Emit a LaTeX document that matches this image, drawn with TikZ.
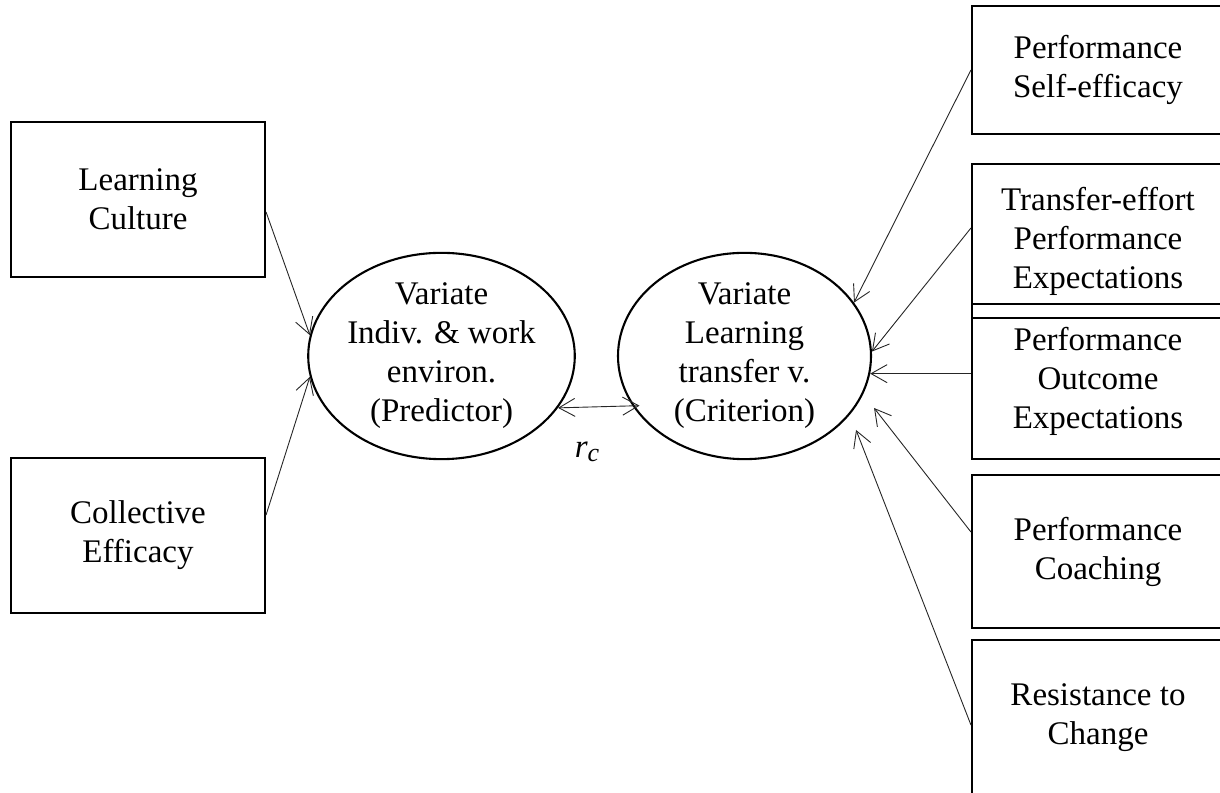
\documentclass[tikz,border=0pt]{standalone}
\usepackage{fontspec}
\setmainfont{Liberation Serif}
\usetikzlibrary{arrows.meta,shapes.geometric}
\begin{document}
\begin{tikzpicture}[x=1pt,y=1pt,
  txt/.style={font=\fontsize{33}{39}\selectfont, align=center},
  var/.style={draw, ellipse, line width=2.1pt, minimum width=253pt,
    minimum height=202pt, inner sep=0pt, txt},
  lbox/.style={draw, rectangle, line width=2.1pt, inner sep=0pt, txt},
  tipv/.tip={Straight Barb[length=16pt,width=18pt]},
  path/.style={line width=0.9pt, draw=black!85, -tipv},
  dpath/.style={line width=0.9pt, draw=black!85, tipv-tipv}
]
\useasboundingbox (0,0) rectangle (1220,792);

% predictor side
\node[lbox, minimum width=254pt, minimum height=155pt] (lc) at (138,592.5) {Learning\\Culture};
\node[lbox, minimum width=254pt, minimum height=155pt] (ce) at (138,256.5) {Collective\\Efficacy};

% the two canonical variates
\node[var] (pre) at (441.5,436) {Variate\\Indiv. \& work\\environ.\\(Predictor)};
\node[var] (cri) at (744.5,436) {Variate\\Learning\\transfer v.\\(Criterion)};

% criterion side
\node[lbox, minimum width=252pt, minimum height=128pt] (b1) at (1098,722) {Performance\\Self-efficacy};
\node[lbox, minimum width=252pt, minimum height=154pt] (b2) at (1098,551) {Transfer-effort\\Performance\\Expectations};
\node[lbox, minimum width=252pt, minimum height=155pt] (b3) at (1098,410.5) {Performance\\Outcome\\Expectations};
\node[lbox, minimum width=252pt, minimum height=153pt] (b4) at (1098,240.5) {Performance\\Coaching};
\node[lbox, minimum width=252pt, minimum height=156pt] (b5) at (1098,74) {Resistance to\\Change};

% canonical correlation
\node[font=\fontsize{33}{39}\selectfont, inner sep=0pt] (rc) at (587,340)
  {\textit{r}\raisebox{-4pt}{\fontsize{26}{26}\selectfont\itshape c}};

% connectors
\draw[path] ([yshift=-12.5pt]lc.east) -- (pre.171.7);
\draw[path] ([yshift=20.5pt]ce.east) -- (pre.189.65);
\draw[dpath, shorten >=-7pt] (pre.-24.4) -- (cri.204.4);

\draw[path] (b1.west) -- (cri.26);
\draw[path] ([yshift=13pt]b2.west) -- (cri.2);
\draw[path] (cri.-8 -| b3.west) -- (cri.-8);
\draw[path] ([yshift=19.5pt]b4.west) -- ([xshift=2pt,yshift=-52pt]cri.east);
\draw[path] ([yshift=-7pt]b5.west) -- ([xshift=-16pt,yshift=-74pt]cri.east);
\end{tikzpicture}
\end{document}
